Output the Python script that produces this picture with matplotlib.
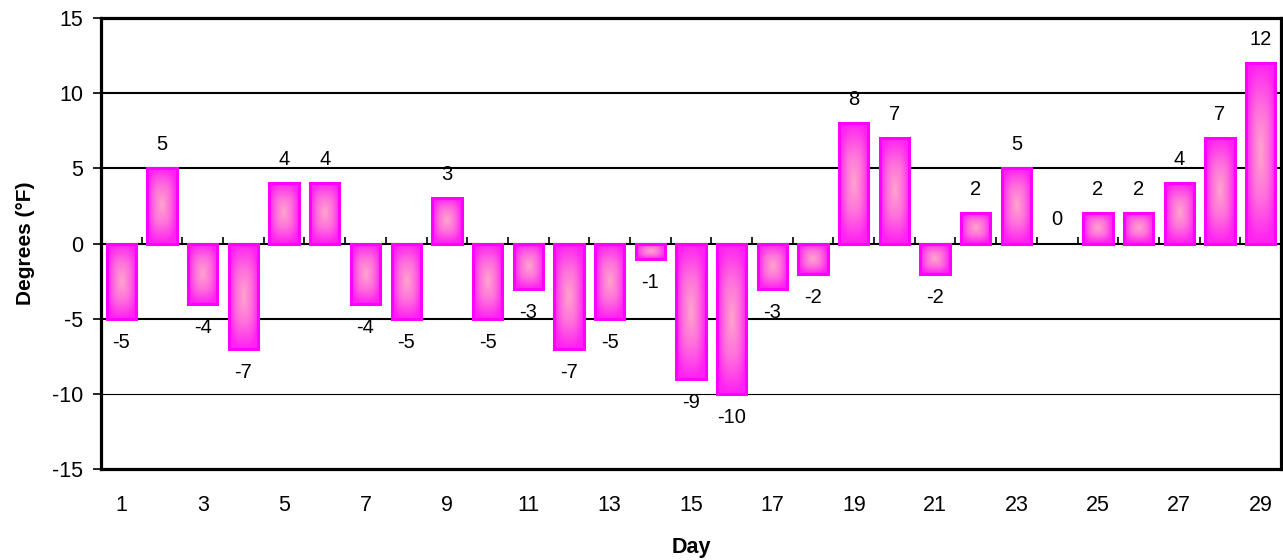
import numpy as np
import matplotlib
matplotlib.use("Agg")
import matplotlib.pyplot as plt
from matplotlib.colors import LinearSegmentedColormap

days = list(range(1, 30))
departures = [-5, 5, -4, -7, 4, 4, -4, -5, 3, -5, -3, -7, -5, -1, -9, -10,
              -3, -2, 8, 7, -2, 2, 5, 0, 2, 2, 4, 7, 12]
tick_days = list(range(1, 30, 2))
y_ticks = [-15, -10, -5, 0, 5, 10, 15]

plt.rcParams["font.family"] = ["Liberation Sans", "DejaVu Sans"]
plt.rcParams["axes.unicode_minus"] = False

fig = plt.figure(figsize=(12.83, 5.6), dpi=100)
ax = fig.add_axes([101 / 1283, 1 - 469 / 560, 1180 / 1283, 451 / 560])

ax.set_xlim(0.5, 29.5)
ax.set_ylim(-15, 15)

# gridlines (the lowest one is drawn thinner in the original)
for y in y_ticks[1:-1]:
    ax.axhline(y, color="black", lw=0.8 if y == -10 else 1.5, zorder=1)

# bars with a pink "from centre" gradient
cmap = LinearSegmentedColormap.from_list("pinkglow", ["#ffa3cd", "#ff70dc", "#ff22f2"])
u = np.linspace(-1, 1, 80)
uu, vv = np.meshgrid(u, u)
glow = np.clip((np.abs(uu) ** 3 + np.abs(vv) ** 3) ** (1 / 3), 0, 1)

bars = ax.bar(days, departures, width=0.72, facecolor="#ff55ee",
              edgecolor="none", zorder=2)
for b in bars:
    x0, y0 = b.get_x(), b.get_y()
    w, h = b.get_width(), b.get_height()
    if h == 0:
        continue
    im = ax.imshow(glow, cmap=cmap, extent=(x0, x0 + w, min(y0, y0 + h), max(y0, y0 + h)),
                   aspect="auto", zorder=2.5, interpolation="bilinear")
    im.set_clip_path(b)
outlines = ax.bar(days, departures, width=0.72, facecolor="none",
                  edgecolor="#ff00ff", linewidth=2.2, zorder=3)
for o, v in zip(outlines, departures):
    if v == 0:
        o.set_linewidth(0)

# value labels
for d, v in zip(days, departures):
    off = -17 if v < 0 else 17
    ax.annotate(str(v), (d, v), xytext=(0, off), textcoords="offset points",
                ha="center", va="center", fontsize=14.5, color="black")

# axes styling
ax.set_xticks(tick_days)
ax.set_xticklabels([str(d) for d in tick_days])
ax.tick_params(axis="x", length=0, pad=19, labelsize=15.5)
ax.set_yticks(y_ticks)
ax.tick_params(axis="y", direction="out", length=6, width=1.2, labelsize=15.5, pad=7)
for s in ax.spines.values():
    s.set_linewidth(2.3)

# category separators on the zero line
seps = [d + 0.5 for d in days[:-1]]
sec = ax.secondary_xaxis(0.5)
sec.set_xticks(seps, labels=[""] * len(seps))
sec.tick_params(axis="x", direction="out", length=4, width=1.2)
sec.spines["bottom"].set_visible(False)
sec.spines["top"].set_visible(False)

ax.set_xlabel("Day", fontsize=15.5, fontweight="bold", labelpad=15)
ax.set_ylabel("Degrees (\u00b0F)", fontsize=15, fontweight="bold", labelpad=12)

fig.savefig("out.png", dpi=100)
